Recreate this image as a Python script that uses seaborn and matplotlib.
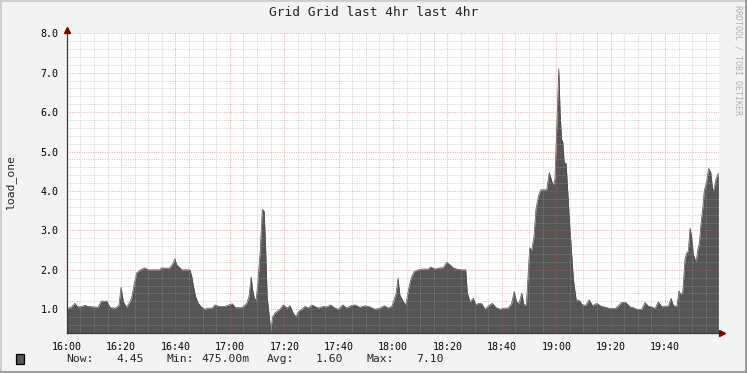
import matplotlib
matplotlib.use("Agg")
import matplotlib.pyplot as plt
import seaborn as sns
import pandas as pd
from matplotlib.ticker import MultipleLocator, FixedLocator, FixedFormatter
from matplotlib.patches import Rectangle
from matplotlib.lines import Line2D

# ---- data (minutes after 16:00, load_one) ----
minutes = [0, 1.5, 3, 4, 5.5, 6.7, 8, 10, 11.5, 12.8,
           14, 14.7, 16, 18, 19.2, 20, 20.8, 22, 23.3, 23.9,
           24.7, 25.7, 26.9, 28.7, 30, 32, 34.3, 34.8, 36.5, 38,
           39.2, 39.8, 40.4, 41.7, 42.3, 45.3, 46, 46.5, 47.4, 48.4,
           49.6, 50.8, 52, 53.5, 54.5, 56, 58, 60.9, 62, 64,
           65, 66.2, 67, 67.8, 68.4, 69, 69.6, 70.2, 71.1, 71.9,
           72.6, 73.2, 73.7, 74.5, 75, 75.7, 76.6, 78.4, 79.6, 80.9,
           82.1, 83.3, 84.3, 85.1, 86.4, 87.6, 88.8, 90.1, 91.3, 92.5,
           94.3, 95.6, 97, 98.6, 99.9, 101.5, 102.9, 104.4, 106, 107.8,
           109.7, 111.5, 113.3, 115.2, 116.8, 118.2, 119.5, 120.3, 121.1, 121.8,
           122.5, 123.8, 124.7, 125.6, 126.2, 126.8, 127.8, 129.3, 131.1, 132.9,
           133.8, 135.4, 137.2, 138.4, 139.7, 140.9, 142.1, 143.4, 145.2, 146.7,
           147.3, 148.3, 149.5, 150.4, 151.4, 152.6, 153.8, 155.1, 156.5, 157.7,
           159.3, 161.1, 162.3, 163.6, 164.5, 165.4, 166.3, 167.3, 168.1, 169,
           170.2, 170.9, 171.8, 172.5, 173.4, 174.3, 176.5, 177.4, 178.3, 178.9,
           179.5, 180.4, 180.9, 181.4, 181.9, 182.4, 182.9, 183.6, 184.1, 184.8,
           185.7, 186.3, 187.3, 188.5, 189.6, 190.8, 192.1, 193.3, 194.9, 196.4,
           198.2, 199.7, 201.6, 202.4, 204, 205.6, 207.1, 208.3, 209.6, 211.4,
           212.6, 213.8, 215.1, 216.3, 217.5, 218.8, 220, 221.2, 222.2, 223,
           224.3, 225.1, 225.8, 226.5, 227.3, 227.9, 228.5, 229.2, 229.8, 230.4,
           231.4, 232, 232.6, 233.1, 233.8, 234.4, 235.3, 236, 236.8, 237.5,
           238, 238.7, 239.6]

load_one = [1.03, 1.04, 1.15, 1.06, 1.07, 1.10, 1.07, 1.06, 1.05, 1.21,
            1.20, 1.21, 1.04, 1.03, 1.10, 1.56, 1.19, 1.05, 1.19, 1.30,
            1.60, 1.92, 1.99, 2.05, 2.00, 2.00, 2.00, 2.05, 2.04, 2.05,
            2.18, 2.28, 2.13, 2.05, 2.00, 2.00, 1.83, 1.62, 1.32, 1.15,
            1.05, 1.00, 1.03, 1.03, 1.11, 1.07, 1.07, 1.14, 1.04, 1.04,
            1.07, 1.15, 1.32, 1.82, 1.49, 1.28, 1.23, 1.62, 2.43, 3.53,
            3.49, 2.43, 1.32, 0.81, 0.475, 0.81, 0.91, 1.00, 1.11, 1.03,
            1.09, 0.90, 0.81, 0.94, 1.00, 1.07, 1.03, 1.11, 1.07, 1.03,
            1.07, 1.06, 1.11, 1.03, 1.00, 1.11, 1.03, 1.09, 1.11, 1.05,
            1.09, 1.06, 1.00, 1.03, 1.09, 1.03, 1.07, 1.23, 1.40, 1.79,
            1.36, 1.19, 1.11, 1.49, 1.66, 1.82, 1.96, 2.00, 2.02, 2.02,
            2.07, 2.02, 2.05, 2.05, 2.19, 2.13, 2.05, 2.02, 2.00, 2.00,
            1.41, 1.19, 1.28, 1.11, 1.15, 1.14, 1.00, 1.09, 1.15, 1.05,
            1.00, 1.03, 1.03, 1.15, 1.45, 1.19, 1.15, 1.41, 1.11, 1.11,
            2.56, 2.48, 2.85, 3.53, 3.87, 4.03, 4.03, 4.47, 4.26, 4.13,
            4.30, 6.08, 7.10, 6.00, 5.32, 5.24, 4.72, 4.70, 4.13, 3.28,
            2.34, 1.75, 1.24, 1.22, 1.11, 1.10, 1.24, 1.09, 1.15, 1.08,
            1.05, 1.02, 1.02, 1.06, 1.17, 1.17, 1.06, 1.04, 1.00, 1.00,
            1.17, 1.08, 1.06, 1.02, 1.19, 1.06, 1.08, 1.08, 1.28, 1.10,
            1.06, 1.47, 1.36, 1.45, 2.26, 2.43, 2.47, 3.06, 2.81, 2.39,
            2.19, 2.51, 2.68, 3.10, 3.53, 4.00, 4.26, 4.57, 4.47, 4.03,
            4.05, 4.30, 4.45]

tick_minutes = [0, 20, 40, 60, 80, 100, 120, 140, 160, 180, 200, 220]
tick_labels = ["16:00", "16:20", "16:40", "17:00", "17:20", "17:40",
               "18:00", "18:20", "18:40", "19:00", "19:20", "19:40"]
y_ticks = [1.0, 2.0, 3.0, 4.0, 5.0, 6.0, 7.0, 8.0]
title = "Grid Grid last 4hr last 4hr"
y_label = "load_one"
watermark = "RRDTOOL / TOBI OETIKER"
legend_names = ["Now:", "Min:", "Avg:", "Max:"]
legend_values = ["4.45", "475.00m", "1.60", "7.10"]

# ---- style ----
sns.set_theme(style="white")
plt.rcParams['font.family'] = ['DejaVu Sans Mono', 'DejaVu Sans']

W, H = 747, 373
fig = plt.figure(figsize=(W / 100, H / 100), dpi=100, facecolor='#F3F3F3')

x0, x1, ytop, ybot = 66.7, 719.5, 33.3, 333.3
ax = fig.add_axes([x0 / W, 1 - ybot / H, (x1 - x0) / W, (ybot - ytop) / H])
ax.set_facecolor('white')

df = pd.DataFrame({'minute': minutes, 'load_one': load_one})
area_color = '#555555'
ax.fill_between(df['minute'], df['load_one'], 0, color=area_color, lw=0, zorder=1)
sns.lineplot(data=df, x='minute', y='load_one', ax=ax, color='#4d4d4d', lw=0.5,
             zorder=1.5)

ax.set_xlim(0, 240)
ax.set_ylim(0.39, 8.0)

ax.xaxis.set_major_locator(FixedLocator(tick_minutes))
ax.xaxis.set_major_formatter(FixedFormatter(tick_labels))
ax.xaxis.set_minor_locator(MultipleLocator(5))
ax.yaxis.set_major_locator(FixedLocator(y_ticks))
ax.yaxis.set_major_formatter(FixedFormatter([f"{v:.1f}" for v in y_ticks]))
ax.yaxis.set_minor_locator(MultipleLocator(0.2))

ax.set_axisbelow(False)
ax.grid(which='minor', color='#A6A6A6', alpha=0.55, linestyle=(0, (1, 1.4)), lw=0.7)
ax.grid(which='major', color='#D65A5A', alpha=0.5, linestyle=(0, (1, 1.4)), lw=0.7)

ax.tick_params(axis='both', which='major', labelsize=7.2, length=2.5, width=0.7,
               color='#D65A5A', pad=3.5, labelcolor='black')
ax.tick_params(axis='both', which='minor', length=1.5, width=0.6, color='#A6A6A6')
ax.set_xlabel('')
ax.set_ylabel('')

for s in ['top', 'right']:
    ax.spines[s].set_visible(False)
for s in ['left', 'bottom']:
    ax.spines[s].set_color('#4a3434')
    ax.spines[s].set_linewidth(0.9)
    ax.spines[s].set_zorder(3)

# arrows
ax.plot([0], [1.012], marker='^', color='#800000', ms=4, transform=ax.transAxes,
        clip_on=False, zorder=4)
ax.plot([1.004], [0], marker='>', color='#800000', ms=4, transform=ax.transAxes,
        clip_on=False, zorder=4)

# texts
fig.text(373.5 / W, 1 - 13 / H, title, ha='center', va='center', fontsize=9.3)
fig.text(10.7 / W, 1 - 183 / H, y_label, rotation=90, ha='center', va='center',
         fontsize=8.2)
fig.text(738 / W, 1 - 60 / H, watermark, rotation=270, ha='center', va='center',
         fontsize=6, color='#B0B0B0')

fig.add_artist(Rectangle((15.5 / W, 1 - 363.5 / H), 8 / W, 9.5 / H,
                         facecolor=area_color, edgecolor='black', lw=0.9,
                         transform=fig.transFigure))
name_x = [66.7, 166.7, 266.7, 366.7]
value_x = [116.0, 201.7, 316.0, 416.0]
ly = 1 - 359 / H
for nm, vl, nx, vx in zip(legend_names, legend_values, name_x, value_x):
    fig.text(nx / W, ly, nm, ha='left', va='center', fontsize=8.2)
    fig.text(vx / W, ly, vl, ha='left', va='center', fontsize=8.2)

# 3-D frame
light, dark = '#CFCFCF', '#9E9E9E'
fw = 2 / 100 * 72
fig.add_artist(Line2D([0, 1], [1 - 1 / H, 1 - 1 / H], color=light, lw=fw, transform=fig.transFigure))
fig.add_artist(Line2D([1 / W, 1 / W], [0, 1], color=light, lw=fw, transform=fig.transFigure))
fig.add_artist(Line2D([0, 1], [1 / H, 1 / H], color=dark, lw=fw, transform=fig.transFigure))
fig.add_artist(Line2D([1 - 1 / W, 1 - 1 / W], [0, 1], color=dark, lw=fw, transform=fig.transFigure))

fig.savefig('out.png', dpi=100, facecolor=fig.get_facecolor())
